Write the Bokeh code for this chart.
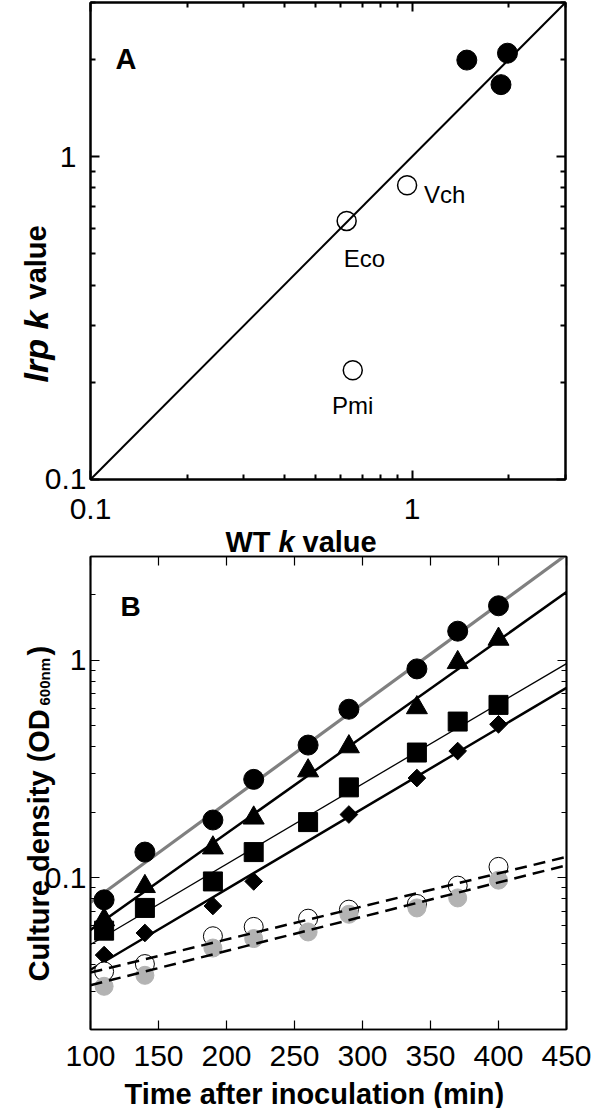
import numpy as np
from bokeh.plotting import figure
from bokeh.models import (LogAxis, FixedTicker, Label, CustomJSTickFormatter, Range1d, LinearAxis)
from bokeh.layouts import column
from bokeh.embed import file_html
from bokeh.resources import INLINE

FONT = "Liberation Sans"

# ---------------- Panel A data ----------------
wt_k_filled = [1.48, 1.98, 1.89]
lrp_k_filled = [1.99, 2.09, 1.67]
species = ["Vch", "Eco", "Pmi"]
wt_k_open = [0.965, 0.626, 0.654]
lrp_k_open = [0.815, 0.632, 0.218]
identity = [0.1, 3.0]
a_major = [0.1, 1.0]
a_minor = [0.2, 0.3, 0.4, 0.5, 0.6, 0.7, 0.8, 0.9, 2.0, 3.0]

# ---------------- Panel B data ----------------
time_min = [110, 140, 190, 220, 260, 290, 340, 370, 400]
od_circle = [0.079, 0.131, 0.184, 0.283, 0.407, 0.595, 0.912, 1.36, 1.78]
od_triangle = [0.064, 0.091, 0.137, 0.188, 0.31, 0.40, 0.605, 0.976, 1.25]
od_square = [0.057, 0.0725, 0.096, 0.131, 0.18, 0.26, 0.376, 0.522, 0.623]
time_diamond = [110, 140, 190, 220, 290, 340, 370, 400]
od_diamond = [0.044, 0.0556, 0.074, 0.096, 0.195, 0.287, 0.382, 0.507]
od_open = [0.037, 0.040, 0.0537, 0.0593, 0.0647, 0.0712, 0.0756, 0.0918, 0.112]
od_gray = [0.0316, 0.0355, 0.0474, 0.0524, 0.0562, 0.0678, 0.0725, 0.0806, 0.0973]
b_xticks = [100, 150, 200, 250, 300, 350, 400, 450]
b_major = [0.1, 1.0]
b_minor = [0.02, 0.03, 0.04, 0.05, 0.06, 0.07, 0.08, 0.09,
           0.2, 0.3, 0.4, 0.5, 0.6, 0.7, 0.8, 0.9, 2.0, 3.0]
fit_span = [100, 450]


def style_axis(ax, tick_w, line_w, labels=True, standoff=8):
    ax.axis_line_width = line_w
    ax.axis_line_color = "black"
    ax.major_tick_in = 9
    ax.major_tick_out = 0
    ax.minor_tick_in = 5
    ax.minor_tick_out = 0
    ax.major_tick_line_width = tick_w
    ax.minor_tick_line_width = tick_w
    ax.major_tick_line_color = "black"
    ax.minor_tick_line_color = "black"
    ax.major_label_text_font = FONT
    ax.major_label_text_color = "black"
    ax.major_label_text_font_size = "30px" if labels else "0px"
    ax.major_label_standoff = standoff if labels else 0
    ax.axis_label = None


def lab(p, text, x, y, size, style="bold", angle=0.0, align="left", units="data",
        xo=0, yo=0, baseline="alphabetic"):
    p.add_layout(Label(x=x, y=y, x_units=units, y_units=units, text=text,
                       text_font=FONT, text_font_size=size, text_font_style=style,
                       text_color="black", angle=angle, text_align=align,
                       text_baseline=baseline, x_offset=xo, y_offset=yo))


# ================= Panel A =================
pA = figure(frame_width=475, frame_height=477, x_axis_type="log", y_axis_type="log",
            x_range=Range1d(0.1, 3.0), y_range=Range1d(0.1, 3.0),
            output_backend="svg", toolbar_location=None,
            min_border_left=90, min_border_right=32, min_border_top=2, min_border_bottom=71)
pA.grid.visible = False
pA.outline_line_color = "black"
pA.outline_line_width = 2
pA.background_fill_color = "white"
pA.border_fill_color = "white"

fmt_a = CustomJSTickFormatter(code="return tick < 0.5 ? '0.1' : '1';")
fmt_a_left = CustomJSTickFormatter(code="return tick < 0.5 ? '' : '1';")
for ax in pA.xaxis:
    ax.ticker = FixedTicker(ticks=a_major, minor_ticks=a_minor)
    ax.formatter = fmt_a
    style_axis(ax, 2, 2, True, 19)
for ax in pA.yaxis:
    ax.ticker = FixedTicker(ticks=a_major, minor_ticks=a_minor)
    ax.formatter = fmt_a_left
    style_axis(ax, 2, 2, True, 14)
for side in ("above", "right"):
    ax = LogAxis(ticker=FixedTicker(ticks=a_major, minor_ticks=a_minor),
                 formatter=CustomJSTickFormatter(code="return '';"))
    style_axis(ax, 2, 2, False)
    pA.add_layout(ax, side)

pA.line(identity, identity, line_color="black", line_width=2)
pA.scatter(wt_k_filled, lrp_k_filled, marker="circle", size=20, color="black")
pA.scatter(wt_k_open, lrp_k_open, marker="circle", size=19, fill_color=None,
           line_color="black", line_width=1.5)

sp_offsets = [(17, -9, "left"), (-3, -38, "left"), (0, -35, "center")]
for name, xv, yv, (xo, yo, al) in zip(species, wt_k_open, lrp_k_open, sp_offsets):
    lab(pA, name, xv, yv, "24px", style="normal", align=al, xo=xo, yo=yo)

lab(pA, "A", 25, 421, "29px", units="screen")

# ================= Panel B =================
pB = figure(frame_width=476, frame_height=473, y_axis_type="log",
            x_range=Range1d(100, 450), y_range=Range1d(0.02, 3.0),
            output_backend="svg", toolbar_location=None,
            min_border_left=90, min_border_right=31, min_border_top=6, min_border_bottom=61)
pB.grid.visible = False
pB.outline_line_color = "black"
pB.outline_line_width = 1.7
pB.background_fill_color = "white"
pB.border_fill_color = "white"

fmt_b = CustomJSTickFormatter(code="return tick < 0.5 ? '0.1' : '1';")
for ax in pB.xaxis:
    ax.ticker = FixedTicker(ticks=b_xticks, minor_ticks=[])
    style_axis(ax, 1.2, 1.7, True, 16)
for ax in pB.yaxis:
    ax.ticker = FixedTicker(ticks=b_major, minor_ticks=b_minor)
    ax.formatter = fmt_b
    style_axis(ax, 1.2, 1.7, True, 4)
axt = LinearAxis(ticker=FixedTicker(ticks=b_xticks, minor_ticks=[]),
                 formatter=CustomJSTickFormatter(code="return '';"))
style_axis(axt, 1.2, 1.7, False)
pB.add_layout(axt, "above")
axr = LogAxis(ticker=FixedTicker(ticks=b_major, minor_ticks=b_minor),
              formatter=CustomJSTickFormatter(code="return '';"))
style_axis(axr, 1.2, 1.7, False)
pB.add_layout(axr, "right")


def fit_line(xs, ys):
    k, b = np.polyfit(np.asarray(xs, float), np.log10(np.asarray(ys, float)), 1)
    xx = np.asarray(fit_span, float)
    return xx, 10 ** (k * xx + b)


series_lines = [
    (time_min, od_circle, "#808080", 3.2),
    (time_min, od_triangle, "black", 2.5),
    (time_min, od_square, "black", 1.3),
    (time_diamond, od_diamond, "black", 2.5),
]
for xs, ys, col, w in series_lines:
    fx, fy = fit_line(xs, ys)
    pB.line(fx, fy, line_color=col, line_width=w)

pB.scatter(time_min, od_circle, marker="circle", size=20, color="black")
pB.scatter(time_min, od_triangle, marker="triangle", size=21, color="black")
pB.scatter(time_min, od_square, marker="square", size=19, color="black")
pB.scatter(time_diamond, od_diamond, marker="square", angle=np.pi / 4, size=12.5, color="black")
pB.scatter(time_min, od_open, marker="circle", size=19, fill_color="white",
           line_color="black", line_width=1)
pB.scatter(time_min, od_gray, marker="circle", size=18, color="#b3b3b3")
for ys in (od_open, od_gray):
    fx, fy = fit_line(time_min, ys)
    pB.line(fx, fy, line_color="black", line_width=2.5, line_dash="12 7")

lab(pB, "B", 30, 423, "28px", units="screen")

# ============ transparent text overlay (axis titles outside the frames) ============
# separate root so that its frame is not aligned with the panels' frames
OV_H = 1108
ov = figure(width=597, height=OV_H, x_range=Range1d(0, 597), y_range=Range1d(OV_H, 0),
            x_axis_location=None, y_axis_location=None, output_backend="svg",
            toolbar_location=None, min_border=0, outline_line_color=None,
            background_fill_color=None, border_fill_color=None)
ov.grid.visible = False
ov.styles = {"position": "absolute", "left": "8px", "top": "0px", "pointer-events": "none"}

O = 8  # page margin -> overlay canvas coordinates
R = np.pi / 2
# Panel A titles
lab(ov, "lrp k", 35 - O, 390 - O, "34px", style="bold italic", angle=R)
lab(ov, "value", 35 - O, 307 - O, "29px", style="bold", angle=R)
lab(ov, "0.1", 86 - O, 486 - O, "30px", style="normal", align="right")
lab(ov, "WT", 225 - O, 549 - O, "29px")
lab(ov, "k", 278 - O, 549 - O, "29px", style="bold italic")
lab(ov, "value", 302 - O, 549 - O, "29px")
# Panel B titles
lab(ov, "Culture density (OD", 38 - O, 989 - O, "29px", angle=R)
lab(ov, "600nm", 44 - O, 713 - O, "15px", angle=R)
lab(ov, ")", 38 - O, 663 - O, "29px", angle=R)
lab(ov, "Time after inoculation (min)", 124 - O, 1101 - O, "29px")

layout = column(pA, pB, spacing=0)
open("out.html", "w").write(file_html([layout, ov], INLINE))
